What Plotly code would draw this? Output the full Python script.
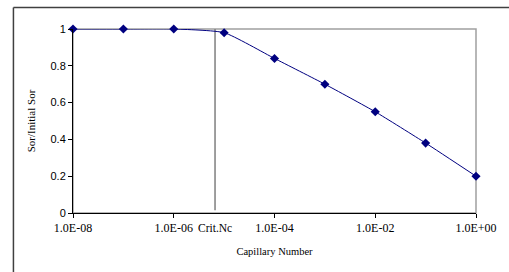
import plotly.graph_objects as go
import math

capillary_number = [1e-8, 1e-7, 1e-6, 1e-5, 1e-4, 1e-3, 1e-2, 1e-1, 1.0]
sor_ratio = [1.0, 1.0, 1.0, 0.98, 0.84, 0.70, 0.55, 0.38, 0.20]
crit_nc = 6.6e-6
crit_line_y = [0.015, 1.0]
x_tickvals = [1e-8, 1e-6, 1e-4, 1e-2, 1.0]
x_ticktext = ["1.0E-08", "1.0E-06", "1.0E-04", "1.0E-02", "1.0E+00"]
y_tickvals = [0, 0.2, 0.4, 0.6, 0.8, 1.0]
y_ticktext = ["0", "0.2", "0.4", "0.6", "0.8", "1"]

SERIF = "Liberation Serif, Times New Roman, serif"
SANS = "Liberation Sans, Arial, sans-serif"

fig = go.Figure()
fig.add_trace(go.Scatter(
    x=[crit_nc, crit_nc], y=crit_line_y, mode="lines",
    line=dict(color="#7f7f7f", width=1.5), hoverinfo="skip", showlegend=False))
fig.add_trace(go.Scatter(
    x=capillary_number, y=sor_ratio, mode="lines+markers",
    line=dict(color="#000080", width=1, shape="spline", smoothing=0.5),
    marker=dict(symbol="diamond", size=7, color="#000080"),
    showlegend=False, cliponaxis=False))

border = dict(color="#404040", width=1.5)
fig.update_layout(
    width=509, height=272,
    margin=dict(l=73, r=30, t=29, b=59),
    paper_bgcolor="white", plot_bgcolor="white",
    font=dict(family=SERIF, size=11, color="black"),
    xaxis=dict(type="log", range=[-8, 0], tickvals=x_tickvals, ticktext=x_ticktext,
               showgrid=False, zeroline=False, showline=True, linecolor="black",
               linewidth=1, ticks="outside", ticklen=4, tickcolor="black",
               tickfont=dict(family=SERIF, size=12),
               title=dict(text="Capillary Number", font=dict(family=SERIF, size=10.5), standoff=13)),
    yaxis=dict(range=[0, 1], tickvals=y_tickvals, ticktext=y_ticktext,
               showgrid=False, zeroline=False, showline=True, linecolor="black",
               linewidth=1, ticks="outside", ticklen=4, tickcolor="black",
               tickfont=dict(family=SANS, size=11),
               title=dict(text="Sor/Initial Sor", font=dict(family=SERIF, size=11), standoff=12)),
    shapes=[
        dict(type="rect", xref="paper", yref="paper", x0=0, x1=1, y0=0, y1=1,
             line=dict(color="#a0a0a0", width=1.5), layer="below"),
        dict(type="line", xref="paper", yref="paper", x0=-0.1478, x1=1.3, y0=1.117, y1=1.117,
             line=border, layer="above"),
        dict(type="line", xref="paper", yref="paper", x0=-0.1478, x1=-0.1478, y0=-0.36, y1=1.117,
             line=border, layer="above"),
    ],
    annotations=[
        dict(x=math.log10(crit_nc), y=0, xref="x", yref="paper", yanchor="top",
             yshift=-7, text="Crit.Nc", showarrow=False, font=dict(family=SERIF, size=11.5)),
    ],
)

fig.write_html("out.html", config={"displayModeBar": False},
               post_script="document.body.style.margin='0';document.body.style.overflow='hidden';")
